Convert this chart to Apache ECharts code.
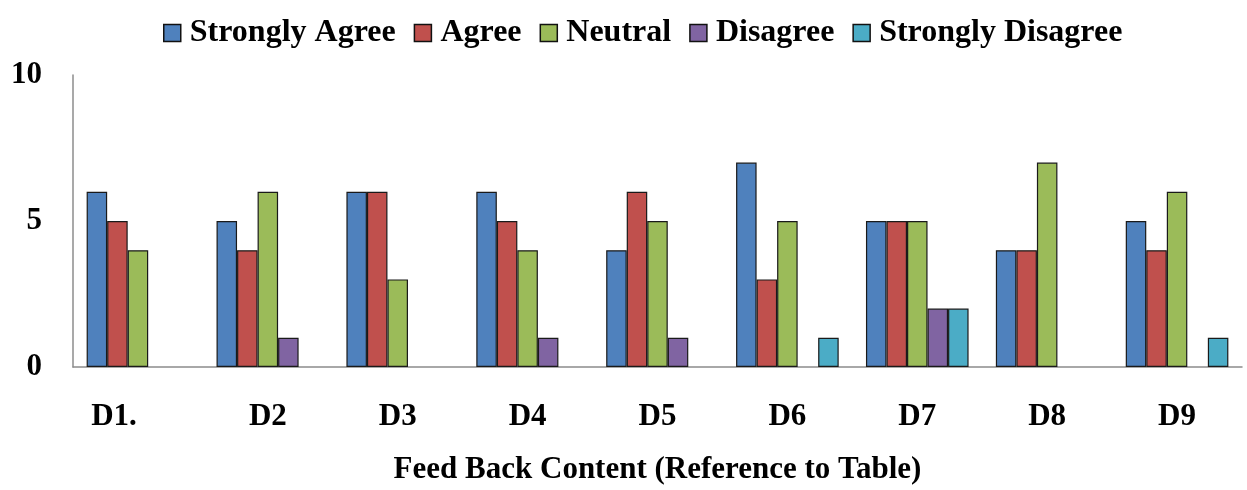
<!DOCTYPE html>
<html>
<head>
<meta charset="utf-8">
<script src="https://cdn.jsdelivr.net/npm/echarts@6/dist/echarts.min.js"></script>
<style>html,body{margin:0;padding:0;background:#fff;}#c{width:1247px;height:490px;}</style>
</head>
<body>
<div id="c"></div>
<script>
const categories = ['D1.', 'D2', 'D3', 'D4', 'D5', 'D6', 'D7', 'D8', 'D9'];
const seriesNames = ['Strongly Agree', 'Agree', 'Neutral', 'Disagree', 'Strongly Disagree'];
const stronglyAgree = [6, 5, 6, 6, 4, 7, 5, 4, 5];
const agree = [5, 4, 6, 5, 6, 3, 5, 4, 4];
const neutral = [4, 6, 3, 4, 5, 5, 5, 7, 6];
const disagree = [0, 1, 0, 1, 1, 0, 2, 0, 0];
const stronglyDisagree = [0, 0, 0, 0, 0, 1, 2, 0, 1];
const yTicks = [0, 5, 10];

const colors = ['#4F81BD', '#C0504D', '#9BBB59', '#8064A2', '#4BACC6'];
const values = [stronglyAgree, agree, neutral, disagree, stronglyDisagree];
const font = '"Liberation Serif", "Times New Roman", serif';
const fs = 31;

const chart = echarts.init(document.getElementById('c'), null, {renderer: 'canvas'});
chart.setOption({
  animation: false,
  color: colors,
  textStyle: {fontFamily: font},
  legend: {
    top: 12,
    left: 158,
    itemWidth: 17,
    itemHeight: 17,
    itemGap: 18,
    icon: 'rect',
    textStyle: {fontFamily: font, fontWeight: 'bold', fontSize: 32, color: '#000', padding: [0, 0, 0, 4]},
    itemStyle: {borderColor: '#111', borderWidth: 1.5}
  },
  grid: {left: 73, right: 5, top: 75, bottom: 123, containLabel: false, outerBoundsMode: 'none'},
  xAxis: {
    type: 'category',
    data: categories,
    axisLine: {show: true, lineStyle: {color: '#8c8c8c', width: 1.5}},
    axisTick: {show: false},
    axisLabel: {
      margin: 34,
      fontFamily: font, fontWeight: 'bold', fontSize: fs, color: '#000',
      formatter: function (v, i) { return i === 0 ? '{a|' + v + '}' : v; },
      rich: {a: {fontFamily: font, fontWeight: 'bold', fontSize: fs, color: '#000', padding: [0, 48, 0, 0]}}
    },
    name: 'Feed Back Content (Reference to Table)',
    nameLocation: 'middle',
    nameGap: 87,
    nameTextStyle: {fontFamily: font, fontWeight: 'bold', fontSize: fs, color: '#000'}
  },
  yAxis: {
    type: 'value',
    min: yTicks[0],
    max: yTicks[yTicks.length - 1],
    interval: 5,
    axisLine: {show: true, lineStyle: {color: '#8c8c8c', width: 1.5}},
    axisTick: {show: false},
    splitLine: {show: false},
    axisLabel: {margin: 31, fontFamily: font, fontWeight: 'bold', fontSize: fs, color: '#000'}
  },
  series: seriesNames.map((n, k) => ({
    name: n,
    type: 'bar',
    data: values[k].map(v => v === 0 ? {value: v, itemStyle: {borderWidth: 0}} : v),
    barGap: '0%',
    barCategoryGap: '21%',
    itemStyle: {color: colors[k], borderColor: '#1a1a1a', borderWidth: 1.2}
  }))
});
</script>
</body>
</html>
